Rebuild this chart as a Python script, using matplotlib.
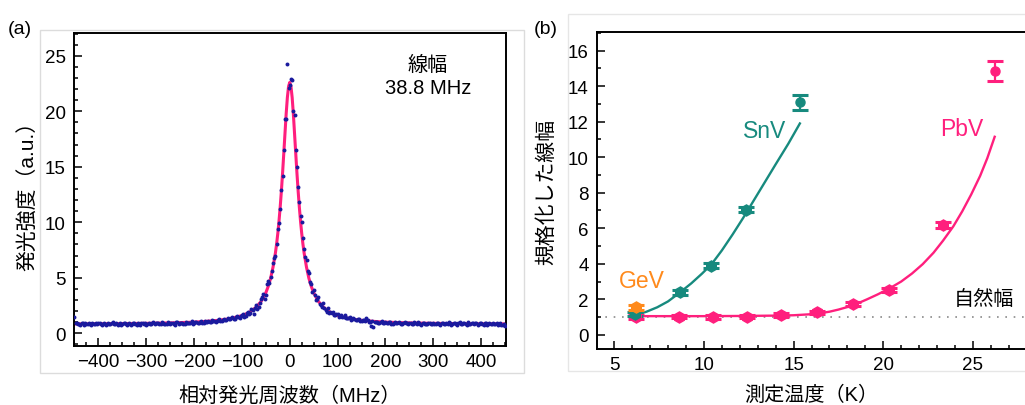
import numpy as np
import matplotlib
matplotlib.use("Agg")
import matplotlib.pyplot as plt
from matplotlib.patches import Rectangle
from matplotlib.ticker import MultipleLocator

plt.rcParams['font.family'] = ['Liberation Sans', 'Noto Sans CJK JP', 'DejaVu Sans']

# ---------------- (a) spectrum data ----------------
# measured points on the integer 5 MHz grid (from -450 MHz)
freq_start, freq_step = -450, 5
intensity = [
    1.45, 0.95, 0.80, 0.90, 0.78, 0.85, 0.92, 0.76, 0.84, 0.88,
    0.95, 0.80, 0.86, 0.74, 0.90, 0.83, 1.00, 0.85, 0.78, 0.92,
    0.80, 0.88, 0.72, 0.95, 0.84, 0.90, 0.78, 0.86, 0.92, 0.80,
    0.76, 0.90, 0.85, 1.05, 0.88, 0.95, 0.80, 0.92, 0.87, 1.00,
    0.84, 0.95, 0.78, 0.98, 0.88, 0.92, 0.80, 0.96, 0.90, 1.08,
    0.95, 1.02, 0.88, 1.10, 0.94, 0.98, 1.08, 1.00, 1.12, 1.05,
    1.18, 1.10, 1.20, 1.15, 1.35, 1.25, 1.42, 1.30, 1.55, 1.40,
    1.62, 1.50, 1.85, 1.70, 2.15, 1.75, 2.55, 2.40, 3.05, 3.50,
    3.40, 4.70, 5.10, 6.30, 7.00, 9.40, 11.2, 14.2, 19.3, 24.3,
    22.4, 22.8, 19.7, 15.0, 11.8, 10.0, 7.6, 6.6, 5.4, 4.4,
    3.9, 3.0, 3.3, 2.55, 2.7, 2.1, 2.25, 1.9, 1.95, 1.65,
    1.72, 1.55, 1.48, 1.60, 1.35, 1.45, 1.25, 1.32, 1.18, 1.30,
    1.10, 1.22, 1.35, 1.05, 0.68, 0.55, 1.05, 0.95, 1.00, 0.90,
    1.05, 0.92, 0.98, 0.85, 1.02, 0.90, 0.95, 0.82, 1.00, 0.88,
    0.93, 0.80, 0.97, 0.86, 0.90, 0.78, 0.95, 0.85, 0.92, 0.80,
    0.88, 0.83, 0.95, 0.78, 0.90, 0.85, 0.80, 0.96, 0.82, 0.88,
    0.75, 0.98, 0.84, 0.90, 0.78, 0.86, 0.92, 0.80, 0.95, 0.82,
    0.88, 0.76, 0.90, 0.85, 0.80, 0.92, 0.84, 0.78, 0.88, 0.70,
    0.62,
]
# measured points on the half-step grid (from -447.5 MHz)
freq_start_half = -447.5
intensity_half = [
    0.92, 0.86, 0.75, 0.95, 0.88, 0.80, 0.86, 0.93, 0.79, 0.85,
    0.90, 0.77, 0.94, 0.84, 0.80, 0.96, 0.82, 0.89, 0.85, 0.76,
    0.93, 0.81, 0.87, 0.78, 0.94, 0.83, 0.90, 0.75, 0.88, 0.95,
    0.82, 0.87, 0.96, 0.80, 0.91, 0.84, 1.02, 0.86, 0.79, 0.93,
    0.88, 0.83, 0.97, 0.86, 0.93, 0.85, 1.00, 0.89, 0.94, 0.87,
    1.05, 0.92, 1.00, 0.96, 1.12, 0.98, 1.03, 1.15, 1.06, 1.10,
    1.25, 1.14, 1.28, 1.20, 1.32, 1.38, 1.28, 1.50, 1.45, 1.52,
    1.75, 1.58, 1.95, 1.85, 2.05, 2.30, 2.20, 2.75, 3.30, 3.05,
    4.40, 4.55, 5.60, 6.80, 8.00, 9.90, 12.9, 16.5, 19.3, 22.1,
    22.9, 20.0, 16.5, 13.2, 10.6, 8.6, 6.9, 5.6, 4.6, 3.7,
    3.45, 3.10, 2.65, 2.35, 2.30, 1.95, 1.85, 1.80, 1.62, 1.70,
    1.50, 1.62, 1.42, 1.38, 1.40, 1.22, 1.35, 1.15, 1.28, 1.12,
    1.20, 1.08, 1.15, 1.02, 1.10, 0.98, 1.04, 0.92, 1.06, 0.96,
    0.90, 1.00, 0.86, 0.96, 0.88, 1.03, 0.84, 0.92, 0.95, 0.80,
    0.96, 0.85, 0.90, 1.00, 0.82, 0.92, 0.87, 0.80, 0.95, 0.86,
    0.80, 0.92, 0.86, 0.95, 0.82, 0.90, 0.97, 0.78, 0.90, 0.84,
    0.92, 0.80, 0.95, 0.86, 0.98, 0.82, 0.88, 0.94, 0.78, 0.90,
    0.82, 0.95, 0.78, 0.90, 0.86, 0.80, 0.92, 0.85, 0.72, 0.80,
]
freq = freq_start + freq_step * np.arange(len(intensity))
freq_half = freq_start_half + freq_step * np.arange(len(intensity_half))

fit_freq = [-450, -400, -350, -300, -250, -200, -175, -150, -125, -100, -90, -80, -70,
            -60, -55, -50, -45, -40, -35, -30, -27.5, -25, -22.5, -20, -17.5, -15,
            -12.5, -10, -7.5, -5, -2.5, 0, 2.5, 5, 7.5, 10, 12.5, 15, 17.5, 20, 22.5,
            25, 27.5, 30, 35, 40, 45, 50, 55, 60, 70, 80, 90, 100, 125, 150, 175, 200,
            250, 300, 350, 400, 450]
fit_int = [0.84, 0.85, 0.87, 0.89, 0.93, 1.00, 1.07, 1.16, 1.31, 1.59, 1.77, 2.01, 2.36,
           2.86, 3.24, 3.65, 4.22, 4.95, 5.95, 7.23, 8.04, 8.99, 10.1, 11.37, 12.82, 14.44,
           16.2, 17.99, 19.77, 21.24, 22.24, 22.6, 22.24, 21.24, 19.77, 17.99, 16.2, 14.44,
           12.82, 11.37, 10.1, 8.99, 8.04, 7.23, 5.95, 4.95, 4.22, 3.65, 3.24, 2.86, 2.36,
           2.01, 1.77, 1.59, 1.31, 1.16, 1.07, 1.00, 0.93, 0.89, 0.87, 0.85, 0.84]

# ---------------- (b) linewidth vs temperature ----------------
snv_T = [6.15, 8.66, 10.39, 12.32, 15.34]
snv_w = [1.16, 2.39, 3.89, 7.04, 13.09]
snv_err = [0.12, 0.15, 0.15, 0.15, 0.42]
snv_fit_T = [6.2, 6.8, 7.4, 8.0, 8.66, 9.3, 9.9, 10.43, 11.0, 11.6, 12.2, 12.8,
             13.4, 14.0, 14.7, 15.35]
snv_fit_w = [1.12, 1.30, 1.55, 1.88, 2.38, 2.90, 3.45, 3.98, 4.75, 5.65, 6.60, 7.60,
             8.60, 9.60, 10.75, 11.90]

pbv_T = [6.19, 8.62, 10.52, 12.41, 14.32, 16.31, 18.31, 20.30, 23.33, 26.24]
pbv_w = [1.01, 1.03, 1.01, 1.03, 1.11, 1.26, 1.73, 2.54, 6.18, 14.84]
pbv_err = [0.1, 0.1, 0.1, 0.1, 0.1, 0.1, 0.12, 0.12, 0.15, 0.56]
pbv_fit_T = [6.2, 8, 10, 12, 14, 15, 16, 16.5, 17, 17.5, 18.13, 18.6, 19.1, 19.7,
             20.36, 21.0, 21.6, 22.2, 22.8, 23.33, 23.9, 24.4, 24.9, 25.4, 25.8, 26.21]
pbv_fit_w = [1.05, 1.05, 1.05, 1.06, 1.08, 1.10, 1.16, 1.22, 1.30, 1.42, 1.60, 1.78,
             2.00, 2.28, 2.62, 3.00, 3.45, 3.98, 4.62, 5.30, 6.10, 6.95, 7.90, 8.95,
             9.95, 11.15]

gev_T = [6.24]
gev_w = [1.54]
gev_err = [0.15]

natural_width = 1.0

C_TEAL = '#178a7e'
C_PINK = '#ff1f7d'
C_ORANGE = '#ff8a1c'
C_BLUE = '#1a1a9e'

fig = plt.figure(figsize=(10.25, 4.06), dpi=100)

# light frames around the panels
fig.patches.append(Rectangle((40 / 1025, 1 - 374 / 406), 484 / 1025, 343 / 406,
                             transform=fig.transFigure, fill=False,
                             edgecolor='#dcdcdc', lw=1.0))
fig.patches.append(Rectangle((568 / 1025, 1 - 372 / 406), 470 / 1025, 357 / 406,
                             transform=fig.transFigure, fill=False,
                             edgecolor='#e6e6e6', lw=1.0))

TICK_FS = 13.5

def style_axes(ax):
    for s in ax.spines.values():
        s.set_linewidth(1.4)
    ax.tick_params(which='both', direction='in', width=1.1, labelsize=TICK_FS,
                   top=False, right=False)
    ax.tick_params(which='major', length=6)
    ax.tick_params(which='minor', length=3)
    ax.tick_params(axis='y', pad=6)
    ax.tick_params(axis='x', pad=5)

# ---- panel (a)
ax1 = fig.add_axes([74 / 1025, 1 - 347 / 406, 432 / 1025, 313 / 406])
ax1.scatter(freq, intensity, s=8, color=C_BLUE, linewidths=0, zorder=3)
ax1.scatter(freq_half, intensity_half, s=8, color=C_BLUE, linewidths=0, zorder=3)
ax1.plot(fit_freq, fit_int, color=C_PINK, lw=2.2, zorder=2)
ax1.set_xlim(-451, 452)
ax1.set_ylim(-1.15, 27.05)
ax1.xaxis.set_major_locator(MultipleLocator(100))
ax1.xaxis.set_minor_locator(MultipleLocator(25))
ax1.yaxis.set_major_locator(MultipleLocator(5))
ax1.yaxis.set_minor_locator(MultipleLocator(1))
style_axes(ax1)
ax1.set_xlabel('相対発光周波数（MHz）', fontsize=14.5, labelpad=11)
ax1.set_ylabel('発光強度（a.u.）', fontsize=15, labelpad=5)
ax1.text(289, 24.2, '線幅', fontsize=14.5, ha='center', va='center')
ax1.text(289, 22.1, '38.8 MHz', fontsize=14.5, ha='center', va='center')

# ---- panel (b)
ax2 = fig.add_axes([597 / 1025, 1 - 350 / 406, 428 / 1025, 317 / 406])
ax2.axhline(natural_width, color='#8a8a8a', lw=1.2, ls=(0, (1, 4)), zorder=1)
ax2.plot(snv_fit_T, snv_fit_w, color=C_TEAL, lw=1.7, zorder=2)
ax2.plot(pbv_fit_T, pbv_fit_w, color=C_PINK, lw=1.7, zorder=2)

eb = dict(capsize=6, capthick=2.2, elinewidth=1.6, zorder=3)
ax2.errorbar(pbv_T[:-1], pbv_w[:-1], yerr=pbv_err[:-1], fmt='h', ms=8, color=C_PINK, **eb)
ax2.errorbar(pbv_T[-1:], pbv_w[-1:], yerr=pbv_err[-1:], fmt='o', ms=6.5, color=C_PINK, **eb)
ax2.errorbar(snv_T[:-1], snv_w[:-1], yerr=snv_err[:-1], fmt='h', ms=8, color=C_TEAL, **eb)
ax2.errorbar(snv_T[-1:], snv_w[-1:], yerr=snv_err[-1:], fmt='o', ms=6.5, color=C_TEAL, **eb)
ax2.errorbar(gev_T, gev_w, yerr=gev_err, fmt='h', ms=8, color=C_ORANGE,
             capsize=6, capthick=2.2, elinewidth=1.6, zorder=4)

ax2.set_xlim(4.04, 27.9)
ax2.set_ylim(-0.8, 17.05)
ax2.xaxis.set_major_locator(MultipleLocator(5))
ax2.xaxis.set_minor_locator(MultipleLocator(1))
ax2.yaxis.set_major_locator(MultipleLocator(2))
ax2.yaxis.set_minor_locator(MultipleLocator(1))
style_axes(ax2)
ax2.spines['right'].set_visible(False)
ax2.set_xlabel('測定温度（K）', fontsize=14.5, labelpad=8.5)
ax2.set_ylabel('規格化した線幅', fontsize=15, labelpad=8)

ax2.text(13.4, 11.5, 'SnV', color=C_TEAL, fontsize=16.5, ha='center', va='center')
ax2.text(24.4, 11.6, 'PbV', color=C_PINK, fontsize=16.5, ha='center', va='center')
ax2.text(6.55, 3.08, 'GeV', color=C_ORANGE, fontsize=16.5, ha='center', va='center')
ax2.text(25.6, 2.05, '自然幅', fontsize=14.5, ha='center', va='center')

fig.text(20 / 1025, 1 - 30 / 406, '(a)', fontsize=14, ha='center', va='center')
fig.text(546 / 1025, 1 - 30 / 406, '(b)', fontsize=14, ha='center', va='center')

fig.savefig('out.png', dpi=100)
